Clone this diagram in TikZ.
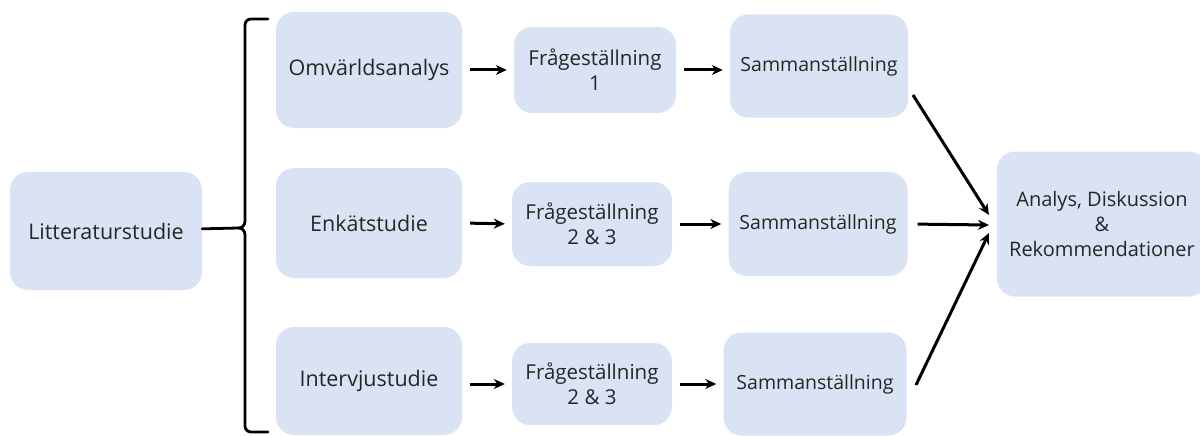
\documentclass[tikz,border=0pt]{standalone}
\usepackage{fontspec}
\setmainfont{Open Sans}
\usetikzlibrary{arrows.meta}
\definecolor{boxfill}{HTML}{DAE3F3}
\definecolor{boxtext}{HTML}{262626}
\begin{document}
\begin{tikzpicture}[x=1pt,y=-1pt,
  box/.style={fill=boxfill, rounded corners=18pt, text=boxtext, align=center,
    inner sep=0pt, font=\fontsize{21.5}{25}\selectfont},
  qbox/.style={box, font=\fontsize{20.5}{25}\selectfont},
  sbox/.style={box, font=\fontsize{19.5}{25}\selectfont},
  abox/.style={box, font=\fontsize{20}{25}\selectfont},
  flow/.style={-{Stealth[length=11pt,width=10pt]}, line width=3pt, black},
  brace/.style={line width=2.8pt, black, line cap=round}]
\useasboundingbox (0,0) rectangle (1200,436);
% left study
\node[box, minimum width=192pt, minimum height=118pt] (lit) at (106,231) {Litteraturstudie};
% three study tracks
\node[box, minimum width=186pt, minimum height=116pt] (omv) at (369,70) {Omvärldsanalys};
\node[box, minimum width=186pt, minimum height=110pt] (enk) at (369,223) {Enkätstudie};
\node[box, minimum width=186pt, minimum height=108pt] (int) at (369,381) {Intervjustudie};
% research questions
\node[qbox, minimum width=162pt, minimum height=86pt] (q1) at (595,70) {Frågeställning\\1};
\node[qbox, minimum width=160pt, minimum height=84pt] (q2) at (592,224) {Frågeställning\\2 \& 3};
\node[qbox, minimum width=160pt, minimum height=82pt] (q3) at (592,384) {Frågeställning\\2 \& 3};
% compilations
\node[sbox, minimum width=178pt, minimum height=103pt] (s1) at (819,66) {Sammanställning};
\node[sbox, minimum width=179pt, minimum height=104pt] (s2) at (818,224) {Sammanställning};
\node[sbox, minimum width=183pt, minimum height=103pt] (s3) at (815,384) {Sammanställning};
% final
\node[abox, minimum width=210pt, minimum height=145pt] (ana) at (1102,224) {Analys, Diskussion\\\&\\Rekommendationer};
% brace
\coordinate (tip) at (239,228);
\draw[brace] (268,19) -- (251,19) to[out=180,in=90] (245,25) -- (245,221)
  to[out=-90,in=0] (tip) to[out=0,in=90] (245,235) -- (245,426)
  to[out=-90,in=180] (251,432) -- (268,432);
\draw[brace] (lit) -- (tip);
% arrows
\draw[flow, shorten <=8pt, shorten >=7pt] (omv.east) -- (q1.west);
\draw[flow, shorten <=8pt, shorten >=7pt] (enk.east) -- (q2.west);
\draw[flow, shorten <=8pt, shorten >=7pt] (int.east |- q3) -- (q3.west);
\draw[flow, shorten <=8pt, shorten >=7pt] (q1.east) -- (s1.west |- q1);
\draw[flow, shorten <=8pt, shorten >=7pt] (q2.east) -- (s2.west);
\draw[flow, shorten <=8pt, shorten >=7pt] (q3.east) -- (s3.west);
\coordinate (in1) at (989,215);
\coordinate (in2) at (989,225);
\coordinate (in3) at (989,233);
\draw[flow] (913,95) -- (in1);
\draw[flow, shorten <=10pt] (s2.east) -- (in2);
\draw[flow] (916,385) -- (in3);
\end{tikzpicture}
\end{document}
